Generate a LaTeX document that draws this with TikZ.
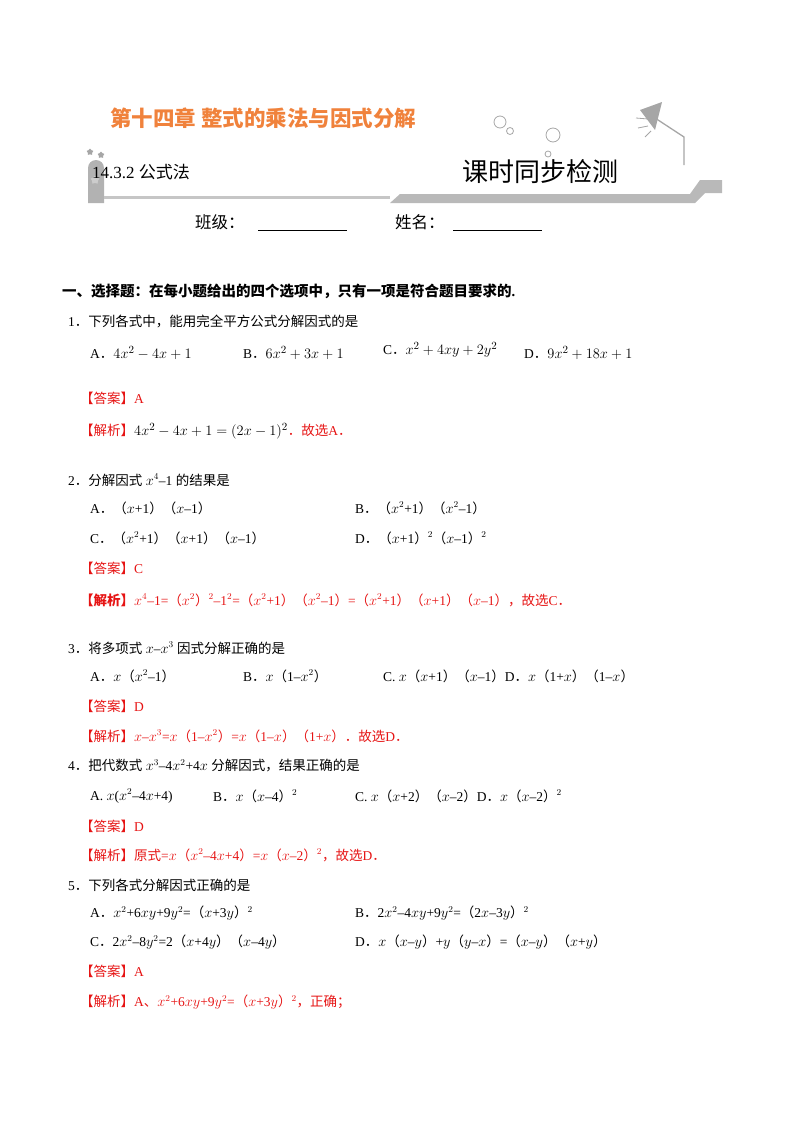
\documentclass[tikz,border=0pt]{standalone}
\usepackage{fontspec}
\setmainfont{Liberation Serif}
\newfontfamily\cjk{Noto Sans CJK SC}
\usetikzlibrary{shapes.geometric}
\definecolor{ored}{RGB}{240,130,60}
\definecolor{ans}{RGB}{230,20,20}
\tikzset{t/.style={anchor=west,inner sep=0pt,font=\fontsize{13.5}{15}\selectfont},
 r/.style={t,text=ans},
 deco/.style={draw=gray!70,line width=0.8pt}}
\newcommand{\C}[1]{{\cjk #1}}
\newcommand{\M}[1]{{\fontsize{15}{17}\selectfont$#1$}}
\catcode`\（=13 \def（{{\cjk\char"FF08}}
\catcode`\）=13 \def）{{\cjk\char"FF09}}
\catcode`\．=13 \def．{{\cjk\char"FF0E}}
\begin{document}
\begin{tikzpicture}[x=1pt,y=1pt]
\useasboundingbox (0,0) rectangle (800,-1132);
% header decorations
\fill[gray!60] (88,-203) -- (88,-168) arc[start angle=180,end angle=0,radius=8] -- (104,-203) -- cycle;
\fill[gray!45] (104,-199) rectangle (390,-196);
\fill[gray!55] (390,-203) -- (400,-194) -- (690,-194) -- (700,-180) -- (722,-180) -- (722,-193) -- (705,-193) -- (695,-203) -- cycle;
\node[star,star points=5,fill=gray!70,minimum size=7pt,inner sep=0pt] (s1) at (90,-152) {};
\node[star,star points=5,fill=gray!70,minimum size=7pt,inner sep=0pt] (s2) at (101,-155) {};
\node[star,star points=5,fill=gray!40,minimum size=9pt,inner sep=0pt] (s3) at (95,-180) {};
\draw[deco] (500,-122) circle (6); \draw[deco] (510,-131) circle (3.5);
\draw[deco] (553,-135) circle (7); \draw[deco] (548,-154) circle (3);
\draw[deco,line width=1.3pt] (684,-165) -- (684,-137) -- (655,-118);
\fill[gray!70] (640,-110) -- (662,-102) -- (655,-130) -- cycle;
\draw[deco] (636,-118) -- (648,-119) (638,-128) -- (648,-126) (645,-137) -- (651,-131);
% header texts
\node[t,anchor=west,font=\fontsize{21.5}{24}\selectfont\bfseries,text=ored] (title) at (110,-118) {\C{第十四章\ 整式的乘法与因式分解}};
\node[t,font=\fontsize{17}{19}\selectfont] (sec) at (92,-172) {14.3.2 \C{公式法}};
\node[t,font=\fontsize{26}{28}\selectfont] (ks) at (462,-172) {\C{课时同步检测}};
\node[t,font=\fontsize{16.5}{18}\selectfont] (bj) at (195,-222) {\C{班级：}};
\draw (258,-230) -- (347,-230);
\node[t,font=\fontsize{16.5}{18}\selectfont] (xm) at (395,-222) {\C{姓名：}};
\draw (453,-230) -- (542,-230);
% body
\node[t,font=\fontsize{14.5}{16}\selectfont\bfseries] (h1) at (62,-291) {\C{\bfseries 一、选择题：在每小题给出的四个选项中，只有一项是符合题目要求的}.};
\node[t] (q1) at (68,-321) {1．\C{下列各式中，能用完全平方公式分解因式的是}};
\node[t] (q1a) at (90,-353) {A．\M{4x^2-4x+1}};
\node[t] (q1b) at (243,-353) {B．\M{6x^2+3x+1}};
\node[t] (q1c) at (383,-350) {C．\M{x^2+4xy+2y^2}};
\node[t] (q1d) at (524,-353) {D．\M{9x^2+18x+1}};
\node[r] (a1) at (80,-398) {\C{【答案】}A};
\node[r] (j1) at (80,-431) {\C{【解析】}\color{black}\M{4x^2-4x+1=(2x-1)^2}\color{ans}．\C{故选}A．};
\node[t] (q2) at (68,-480) {2．\C{分解因式} $x^4$–1 \C{的结果是}};
\node[t] (q2a) at (90,-508) {A．（$x$+1）（$x$–1）};
\node[t] (q2b) at (355,-508) {B．（$x^2$+1）（$x^2$–1）};
\node[t] (q2c) at (90,-538) {C．（$x^2$+1）（$x$+1）（$x$–1）};
\node[t] (q2d) at (355,-538) {D．（$x$+1）$^2$（$x$–1）$^2$};
\node[r] (a2) at (80,-568) {\C{【答案】}C};
\node[r] (j2) at (80,-600) {\C{\bfseries【解析】}$x^4$–1=（$x^2$）$^2$–1$^2$=（$x^2$+1）（$x^2$–1）=（$x^2$+1）（$x$+1）（$x$–1）\C{，故选}C．};
\node[t] (q3) at (68,-648) {3．\C{将多项式} $x$–$x^3$ \C{因式分解正确的是}};
\node[t] (q3a) at (90,-676) {A．$x$（$x^2$–1）};
\node[t] (q3b) at (243,-676) {B．$x$（1–$x^2$）};
\node[t] (q3c) at (383,-676) {C. $x$（$x$+1）（$x$–1）D．$x$（1+$x$）（1–$x$）};
\node[r] (a3) at (80,-706) {\C{【答案】}D};
\node[r] (j3) at (80,-736) {\C{【解析】}$x$–$x^3$=$x$（1–$x^2$）=$x$（1–$x$）（1+$x$）．\C{故选}D．};
\node[t] (q4) at (68,-766) {4．\C{把代数式} $x^3$–4$x^2$+4$x$ \C{分解因式，结果正确的是}};
\node[t] (q4a) at (90,-796) {A. $x$($x^2$–4$x$+4)};
\node[t] (q4b) at (213,-796) {B．$x$（$x$–4）$^2$};
\node[t] (q4c) at (355,-796) {C. $x$（$x$+2）（$x$–2）D．$x$（$x$–2）$^2$};
\node[r] (a4) at (80,-826) {\C{【答案】}D};
\node[r] (j4) at (80,-855) {\C{【解析】原式}=$x$（$x^2$–4$x$+4）=$x$（$x$–2）$^2$\C{，故选}D．};
\node[t] (q5) at (68,-885) {5．\C{下列各式分解因式正确的是}};
\node[t] (q5a) at (90,-913) {A．$x^2$+6$xy$+9$y^2$=（$x$+3$y$）$^2$};
\node[t] (q5b) at (355,-913) {B．2$x^2$–4$xy$+9$y^2$=（2$x$–3$y$）$^2$};
\node[t] (q5c) at (90,-942) {C．2$x^2$–8$y^2$=2（$x$+4$y$）（$x$–4$y$）};
\node[t] (q5d) at (355,-942) {D．$x$（$x$–$y$）+$y$（$y$–$x$）=（$x$–$y$）（$x$+$y$）};
\node[r] (a5) at (80,-971) {\C{【答案】}A};
\node[r] (j5) at (80,-1002) {\C{【解析】}A\C{、}$x^2$+6$xy$+9$y^2$=（$x$+3$y$）$^2$\C{，正确；}};
\end{tikzpicture}
\end{document}
